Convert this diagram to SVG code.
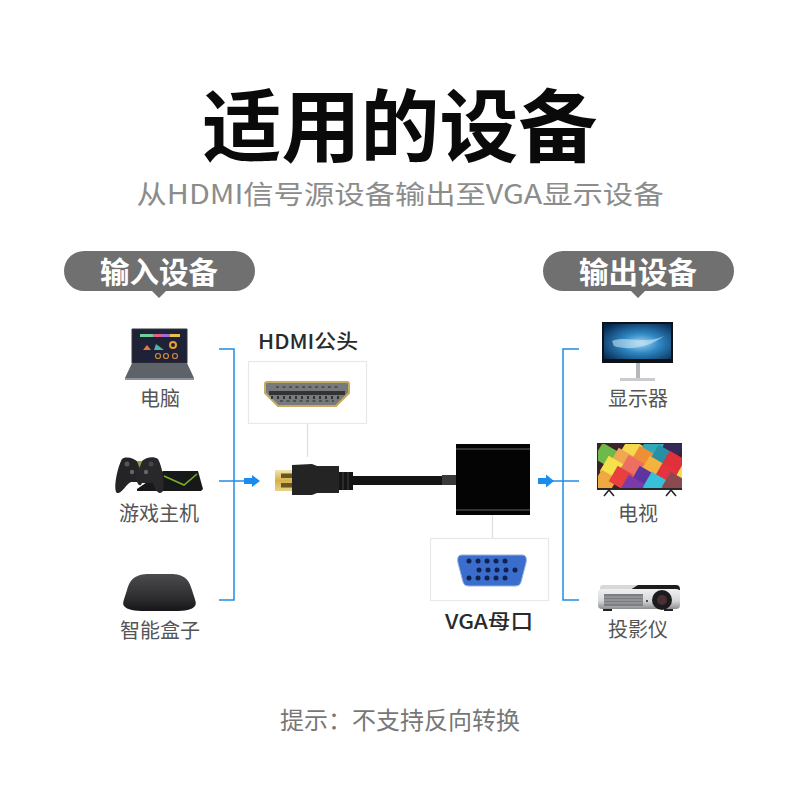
<svg xmlns="http://www.w3.org/2000/svg" width="800" height="800" viewBox="0 0 800 800">
<style>
text{font-family:"Noto Sans CJK SC","Liberation Sans",sans-serif;text-anchor:middle}
.lab{font-size:20px;fill:#555}
.pill{fill:#707070}
.pt{font-size:29.500px;font-weight:700;fill:#fff}
.cap{font-size:20px;font-weight:500;fill:#2a2a2a}
.frame{fill:#fff;stroke:#e8e8e8;stroke-width:1.2}
.blue{fill:none;stroke:#1f8ce6;stroke-width:1.5}
.thin{stroke:#dedede;stroke-width:1.2;fill:none}
.arrow{fill:#1a8cf0}
.dot{fill:#10224e}
</style>
<defs>
<radialGradient id="scr" cx=".55" cy=".55" r=".7"><stop offset="0" stop-color="#9bd3ee"/><stop offset=".4" stop-color="#2f87c4"/><stop offset="1" stop-color="#06264e"/></radialGradient>
<linearGradient id="gold" x1="0" y1="0" x2="0" y2="1"><stop offset="0" stop-color="#f3e6b0"/><stop offset=".5" stop-color="#d6b04a"/><stop offset="1" stop-color="#e7d18a"/></linearGradient>
<linearGradient id="proj" x1="0" y1="0" x2="0" y2="1"><stop offset="0" stop-color="#f0f0f0"/><stop offset=".6" stop-color="#d4d6d8"/><stop offset="1" stop-color="#8b8d90"/></linearGradient>
<linearGradient id="box" x1="0" y1="0" x2="0" y2="1"><stop offset="0" stop-color="#4c4c4e"/><stop offset=".7" stop-color="#2a2a2c"/><stop offset="1" stop-color="#161618"/></linearGradient>
<clipPath id="tvc"><rect x="598" y="444" width="84" height="44"/></clipPath>
<rect id="t" x="-9" y="-9" width="18" height="18"/>
</defs>

<g id="title">
<text x="400" y="156" font-size="79" font-weight="700" fill="#0a0a0a">适用的设备</text>
<text x="400" y="204" font-size="26.400" fill="#8c8c8c" textLength="527" lengthAdjust="spacingAndGlyphs">从HDMI信号源设备输出至VGA显示设备</text>
</g>

<g id="connectors">
<path class="blue" d="M219 349H234V600H219"/>
<path class="blue" d="M219 481H246"/>
<path class="arrow" d="M244 478H252V475L260 481L252 487V484H244Z"/>
<path class="blue" d="M579 349H563V600H579"/>
<path class="blue" d="M552 481H579"/>
<path class="arrow" d="M538 478H546V474.500L554 481L546 487.500V484H538Z"/>
<path class="thin" d="M307.500 423V457"/>
<path class="thin" d="M492.500 515V538"/>
</g>

<g id="input-devices-header">
<path class="pill" d="M84 251H235A20 20 0 0 1 235 291H166L159 298L152 291H84A20 20 0 0 1 84 251Z"/>
<text class="pt" x="159" y="283">输入设备</text>
</g>
<g id="output-devices-header">
<path class="pill" d="M563 251H714A20 20 0 0 1 714 291H645L638 298L631 291H563A20 20 0 0 1 563 251Z"/>
<text class="pt" x="638" y="283">输出设备</text>
</g>

<g id="laptop">
<path d="M132 329H187V363H132Z" fill="#1f2136" stroke="#33353f"/>
<rect x="140" y="334" width="13" height="3" fill="#6fcf9a"/><rect x="153" y="334" width="9" height="3" fill="#e0608a"/><rect x="162" y="334" width="8" height="3" fill="#9a6fd0"/><rect x="170" y="334" width="10" height="3" fill="#e8c24a"/>
<path d="M143 350L147 345L151 350Z" fill="#e07a3a"/><path d="M154 350L156 344L164 350Z" fill="#4fb3a0"/>
<circle cx="173" cy="345" r="3" fill="none" stroke="#e8a030" stroke-width="2"/>
<g fill="none" stroke="#d08a40" stroke-width="1.200"><circle cx="158" cy="356" r="2.500"/><circle cx="166" cy="356" r="2.500"/><circle cx="175" cy="356" r="2.500"/></g>
<path d="M132 363H187L194 378H125Z" fill="#5d6369"/>
<rect x="125" y="378" width="69" height="2" fill="#8e9398"/>
<text class="lab" x="160" y="406">电脑</text>
</g>

<g id="game-console">
<path d="M137 489L163 471H198L203 489L201 491H137Z" fill="#17181a"/>
<path d="M164 476L184 485L197 474" fill="none" stroke="#7fae2a" stroke-width="1.500"/>
<path d="M122 459C126 456 134 458 138 462C142 468 144 476 142 482L131 482C126 484 122 494 117 493C113 490 117 468 122 459Z" fill="#242426"/>
<path d="M142 461C146 457 154 456 158 459C162 466 165 482 163 491C160 495 156 493 153 483H142C140 488 137 484 136 478C136 472 139 465 142 461Z" fill="#28282a"/>
<path d="M137 461H142L139.500 468Z" fill="#8aa03a"/>
<circle cx="127" cy="464" r="2.500" fill="#555"/><circle cx="151" cy="464" r="2.500" fill="#445"/><circle cx="132" cy="472" r="2.200" fill="#666"/><circle cx="146" cy="472" r="2.200" fill="#666"/>
<text class="lab" x="159" y="521">游戏主机</text>
</g>

<g id="media-box">
<path d="M150 574H170C185 574 189 580 192 590C195 600 197 603 195 606C192 610 185 611 175 611H145C135 611 127 610 124 606C122 603 124 600 127 590C130 580 134 574 150 574Z" fill="url(#box)"/>
<text class="lab" x="160" y="638">智能盒子</text>
</g>

<g id="hdmi-port">
<text class="cap" x="308" y="349" textLength="100" lengthAdjust="spacingAndGlyphs">HDMI公头</text>
<rect class="frame" x="248.500" y="361.500" width="118" height="62"/>
<path d="M267 382H347Q349 382 349 384V393L336 406H278L265 393V384Q265 382 267 382Z" fill="#777a7c" stroke="#c7ab60" stroke-width="2"/>
<rect x="269" y="391" width="76" height="4" fill="#333"/>
<path d="M276 387H338M280 401H334" stroke="#444" stroke-width="1.500" stroke-dasharray="3 3.500"/>
<path d="M272 396V399M278 396V399M284 396V399M290 396V399M296 396V399M302 396V399M308 396V399M314 396V399M320 396V399M326 396V399M332 396V399M338 396V399" stroke="#333" stroke-width="2"/>
</g>

<g id="adapter">
<rect x="275" y="470" width="18" height="21" fill="url(#gold)"/>
<path d="M281 473.500H292V478H281ZM281 483H292V487.500H281Z" fill="#6a5620"/>
<path d="M292 465L312 464L317 466H339V493H317L312 495L292 495Z" fill="#242424"/>
<rect x="339" y="472" width="14" height="18" fill="#151515"/>
<path d="M343 472V490M348 472V490" stroke="#444"/>
<rect x="353" y="476" width="90" height="9" fill="#141414"/>
<rect x="442" y="475" width="14" height="10" fill="#3a3a3a"/>
<rect x="456" y="444" width="74" height="71" fill="#040404"/>
<path d="M456 449H530M456 510H530" stroke="#444" stroke-width="1.500"/>
</g>

<g id="vga-port">
<rect class="frame" x="430.500" y="538.500" width="118" height="62"/>
<path d="M462 555H522C526 555 527 558 526 563L521 582C520 585 518 586 515 586H469C466 586 464 585 463 582L458 563C457 558 458 555 462 555Z" fill="#3b6dcc" stroke="#9ab2e0"/>
<g class="dot">
<circle cx="469" cy="561" r="2.500"/><circle cx="478" cy="561" r="2.500"/><circle cx="487" cy="561" r="2.500"/><circle cx="496" cy="561" r="2.500"/><circle cx="505" cy="561" r="2.500"/>
<circle cx="479" cy="570" r="2.500"/><circle cx="488" cy="570" r="2.500"/><circle cx="497" cy="570" r="2.500"/><circle cx="506" cy="570" r="2.500"/><circle cx="515" cy="570" r="2.500"/>
<circle cx="469" cy="578" r="2.500"/><circle cx="478" cy="578" r="2.500"/><circle cx="487" cy="578" r="2.500"/><circle cx="496" cy="578" r="2.500"/><circle cx="505" cy="578" r="2.500"/>
</g>
<text class="cap" x="489" y="629" textLength="88" lengthAdjust="spacingAndGlyphs">VGA母口</text>
</g>

<g id="monitor">
<rect x="602" y="322" width="71" height="41" fill="#0d1216"/>
<rect x="604" y="324" width="67" height="35" fill="url(#scr)"/>
<path d="M612 341C625 335 645 345 664 336C650 347 630 351 614 346Z" fill="#d4edf8" opacity=".55"/>
<rect x="636" y="363" width="4" height="15" fill="#b5b7ba"/>
<rect x="620" y="378" width="35" height="3" fill="#c9cbce"/>
<text class="lab" x="638" y="406">显示器</text>
</g>

<g id="tv">
<rect x="597" y="443" width="85" height="47" fill="#2a2a2a"/>
<g clip-path="url(#tvc)">
<rect x="598" y="444" width="84" height="44" fill="#3d2228"/>
<g transform="translate(606 455) rotate(30)"><use href="#t" fill="#6fb84a"/></g>
<g transform="translate(632 450) rotate(30)"><use href="#t" fill="#f6d94e"/></g>
<g transform="translate(652 448) rotate(30)"><use href="#t" fill="#35a8b8"/></g>
<g transform="translate(673 447) rotate(30)"><use href="#t" fill="#352a58"/></g>
<g transform="translate(622 460) rotate(30)"><use href="#t" fill="#f0a850"/></g>
<g transform="translate(643 458) rotate(30)"><use href="#t" fill="#ee8f38"/></g>
<g transform="translate(662 457) rotate(30)"><use href="#t" fill="#2890a4"/></g>
<g transform="translate(678 472) rotate(30)"><use href="#t" fill="#f0e04a"/></g>
<g transform="translate(673 463) rotate(30)"><use href="#t" fill="#e0303a"/></g>
<g transform="translate(612 468) rotate(30)"><use href="#t" fill="#f4e24a"/></g>
<g transform="translate(632 467) rotate(30)"><use href="#t" fill="#ec6f62"/></g>
<g transform="translate(653 468) rotate(30)"><use href="#t" fill="#f4b23e"/></g>
<g transform="translate(605 482) rotate(30)"><use href="#t" fill="#f0a840"/></g>
<g transform="translate(621 478) rotate(30)"><use href="#t" fill="#e8403e"/></g>
<g transform="translate(643 478) rotate(30)"><use href="#t" fill="#5e34a0"/></g>
<g transform="translate(666 475) rotate(30)"><use href="#t" fill="#e2333e"/></g>
<g transform="translate(632 487) rotate(30)"><use href="#t" fill="#7a3aa8"/></g>
<g transform="translate(655 484) rotate(30)"><use href="#t" fill="#38c0d8"/></g>
<g transform="translate(674 484) rotate(30)"><use href="#t" fill="#8a4a50"/></g>
</g>
<path d="M604 496L609 490L614 496M666 496L671 490L676 496" fill="none" stroke="#222" stroke-width="1.500"/>
<text class="lab" x="638" y="521">电视</text>
</g>

<g id="projector">
<rect x="600" y="585" width="80" height="7" rx="3" fill="#d8d8da"/>
<path d="M638 585H676Q680 585 680 590H630Z" fill="#1c1c1e"/>
<rect x="598" y="589" width="82" height="20" rx="4" fill="url(#proj)"/>
<rect x="604" y="594" width="39" height="12" fill="#7c7e82"/>
<path d="M604 597H643M604 600H643M604 603H643" stroke="#a5a7aa"/>
<circle cx="662" cy="600" r="10" fill="#1c1c1e"/><circle cx="662" cy="600" r="5" fill="#4a3034"/>
<circle cx="647" cy="601" r="1" fill="#222"/>
<rect x="603" y="609" width="9" height="2" fill="#222"/><rect x="664" y="609" width="9" height="2" fill="#222"/>
<text class="lab" x="638" y="637">投影仪</text>
</g>

<g id="note">
<text x="400" y="729" font-size="24" fill="#777">提示：不支持反向转换</text>
</g>
</svg>
